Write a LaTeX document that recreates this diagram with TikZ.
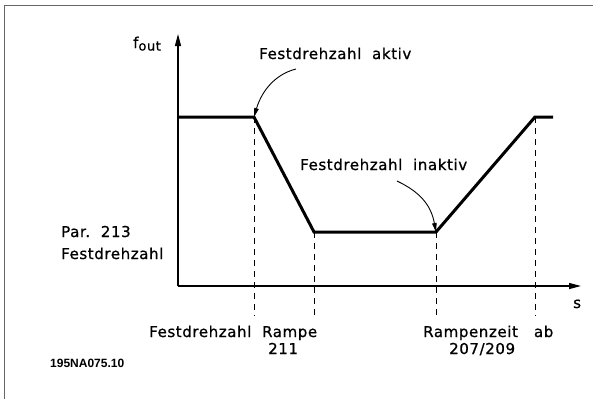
\documentclass[tikz,border=0pt]{standalone}
\usepackage{fontspec}
\setmainfont{DejaVu Sans}[LetterSpace=4,FakeBold=0.8]
\newfontfamily\codefont{Liberation Sans}
\usetikzlibrary{arrows.meta}
\begin{document}
\begin{tikzpicture}[x=1pt,y=-1pt,
  axis/.style={line width=1.3pt,-{Triangle[length=12pt,width=6pt]}},
  curve/.style={line width=3pt,line join=miter},
  guide/.style={line width=1pt,dash pattern=on 6pt off 5pt},
  pointer/.style={line width=0.9pt,-{Triangle[length=9pt,width=4.5pt]}},
  lbl/.style={font=\fontsize{15}{17}\selectfont,inner sep=0pt,anchor=base west},
  frame/.style={line width=1pt,draw=black!60}]
\useasboundingbox (0,0) rectangle (593,399);
\draw[frame] (4,399) -- (4,5) -- (593,5);
% coordinates
\coordinate (o) at (178,286);
\coordinate (ytip) at (178,34);
\coordinate (xtip) at (581,286);
\coordinate (p0) at (179,117);
\coordinate (p1) at (254,117);
\coordinate (p2) at (314,232);
\coordinate (p3) at (436,232);
\coordinate (p4) at (535,117);
\coordinate (p5) at (553,117);
\coordinate (d1) at (254,316);
\coordinate (d2) at (314,316);
\coordinate (d3) at (436,316);
\coordinate (d4) at (535,316);
% guides
\draw[guide] (p1) -- (d1);
\draw[guide] (p2) -- (d2);
\draw[guide] (p3) -- (d3);
\draw[guide] (p4) -- (d4);
% axes
\draw[axis] (o) -- (ytip);
\draw[axis] (o) -- (xtip);
% curve
\draw[curve] (p0) -- (p1) -- (p2) -- (p3) -- (p4) -- (p5);
% labels
\node[lbl] (fout) at (133,48) {f\raisebox{-2.5pt}{\fontsize{13}{15}\selectfont out}};
\node[lbl] (akt) at (259,59) {Festdrehzahl\ \ aktiv};
\node[lbl] (inakt) at (300,170) {Festdrehzahl\ \ inaktiv};
\node[lbl] (par) at (61,237) {Par.\ \ 213};
\node[lbl] (fd) at (61,259) {Festdrehzahl};
\node[lbl] (rampe) at (149,337) {Festdrehzahl\ \ Rampe};
\node[lbl] (n211) at (268,354) {211};
\node[lbl] (rz) at (423,337) {Rampenzeit\ \ \ ab};
\node[lbl] (n207) at (449,354) {207/209};
\node[lbl] (s) at (573,308) {s};
\node[inner sep=0pt,anchor=base west,font=\codefont\bfseries\fontsize{12}{14}\selectfont] (code) at (50,367) {195NA075.10};
% pointers
\coordinate (a1s) at (296,69);
\coordinate (a2s) at (397,181);
\draw[pointer] (a1s) .. controls (276,74) and (262,90) .. (p1);
\draw[pointer] (a2s) .. controls (420,192) and (431,205) .. (p3);
\end{tikzpicture}
\end{document}
